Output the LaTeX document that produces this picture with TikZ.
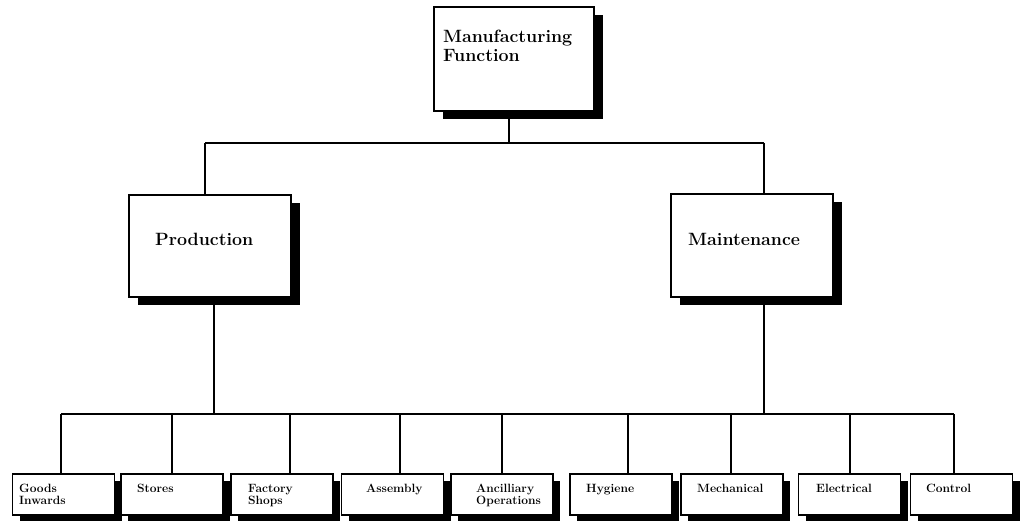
\documentclass[tikz,border=0pt]{standalone}
\usetikzlibrary{shadows}
\begin{document}
\begin{tikzpicture}[x=1pt,y=-1pt,
  bigbox/.style={draw=black,fill=white,line width=1.3pt,inner sep=0pt,
    drop shadow={shadow xshift=8.5pt,shadow yshift=-8.5pt,opacity=1,fill=black}},
  smallbox/.style={draw=black,fill=white,line width=1.2pt,inner sep=0pt,
    minimum width=102pt,minimum height=41pt,
    drop shadow={shadow xshift=7pt,shadow yshift=-7pt,opacity=1,fill=black}},
  bigtxt/.style={anchor=base west,inner sep=0pt,align=left,
    font=\fontsize{17.8}{19}\selectfont\bfseries},
  smalltxt/.style={anchor=base west,inner sep=0pt,align=left,
    font=\fontsize{12}{12}\selectfont\bfseries},
  conn/.style={line width=1.2pt}]
\useasboundingbox (0,0) rectangle (1026,521);
% top level
\node[bigbox,minimum width=160pt,minimum height=104pt] (mf) at (514,59) {};
\node[bigtxt] (mft) at (443,62) {Manufacturing\\Function};
% second level
\node[bigbox,minimum width=162pt,minimum height=102pt] (prod) at (210,246) {};
\node[bigtxt] (prodt) at (155,246) {Production};
\node[bigbox,minimum width=162pt,minimum height=103pt] (maint) at (752,245.5) {};
\node[bigtxt] (maintt) at (688,246) {Maintenance};
% bottom boxes
\node[smallbox] (g) at (63.5,494.5) {};
\node[smallbox] (s) at (172,494.5) {};
\node[smallbox] (f) at (282,494.5) {};
\node[smallbox] (a) at (392.5,494.5) {};
\node[smallbox] (o) at (502,494.5) {};
\node[smallbox] (h) at (621,494.5) {};
\node[smallbox] (m) at (732,494.5) {};
\node[smallbox] (e) at (849.5,494.5) {};
\node[smallbox] (c) at (961.5,494.5) {};
\node[smalltxt] (gt) at (19,504) {Goods\\Inwards};
\node[smalltxt] (st) at (137,492) {Stores};
\node[smalltxt] (ft) at (248,504) {Factory\\Shops};
\node[smalltxt] (at) at (366,492) {Assembly};
\node[smalltxt] (ot) at (476,504) {Ancilliary\\Operations};
\node[smalltxt] (ht) at (586,492) {Hygiene};
\node[smalltxt] (mt) at (697,492) {Mechanical};
\node[smalltxt] (et) at (816,492) {Electrical};
\node[smalltxt] (ct) at (926,492) {Control};
% bus coordinates
\coordinate (tm) at (509,143);
\coordinate (tl) at (205,143);
\coordinate (tr) at (764,143);
\coordinate (bp) at (214,414);
\coordinate (bmt) at (764,414);
\coordinate (bl) at (61,414);
\coordinate (br) at (954,414);
\coordinate (bs) at (172,414);
\coordinate (bf) at (290,414);
\coordinate (ba) at (400,414);
\coordinate (bo) at (502,414);
\coordinate (bh) at (628,414);
\coordinate (bm) at (731,414);
\coordinate (be) at (850,414);
% connectors
\draw[conn] (tl) -- (tr);
\draw[conn] (tm |- mf.south) -- (tm);
\draw[conn] (tl) -- (tl |- prod.north);
\draw[conn] (tr) -- (tr |- maint.north);
\draw[conn] (bp |- prod.south) -- (bp);
\draw[conn] (bmt |- maint.south) -- (bmt);
\draw[conn] (bl) -- (br);
\draw[conn] (bl) -- (bl |- g.north);
\draw[conn] (bs) -- (bs |- s.north);
\draw[conn] (bf) -- (bf |- f.north);
\draw[conn] (ba) -- (ba |- a.north);
\draw[conn] (bo) -- (bo |- o.north);
\draw[conn] (bh) -- (bh |- h.north);
\draw[conn] (bm) -- (bm |- m.north);
\draw[conn] (be) -- (be |- e.north);
\draw[conn] (br) -- (br |- c.north);
\end{tikzpicture}
\end{document}
